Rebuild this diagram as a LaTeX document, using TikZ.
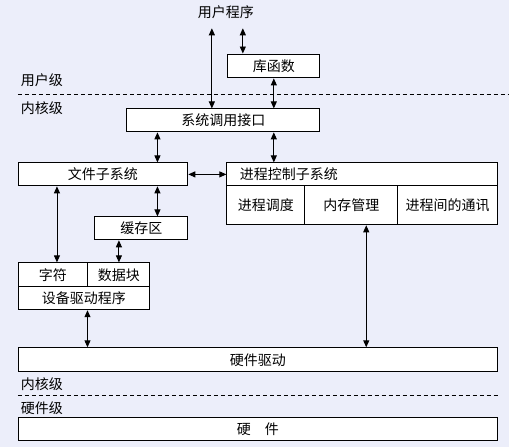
\documentclass[tikz,border=0pt]{standalone}
\usepackage{fontspec}
\setmainfont{Noto Sans CJK SC}
\usetikzlibrary{arrows.meta}
\definecolor{bgpanel}{RGB}{236,238,250}
\begin{document}
\begin{tikzpicture}[x=1pt,y=-1pt,line width=0.9pt,
	box/.style={draw,fill=white,inner sep=0pt},
	dbl/.style={{Triangle[length=7pt,width=6pt]}-{Triangle[length=7pt,width=6pt]}},
	lvl/.style={dash pattern=on 4pt off 3pt,line width=0.7pt},
	font=\fontsize{14}{16}\selectfont]
\fill[bgpanel] (0,0) rectangle (509,447);
\node (user) at (226,12) {用户程序};
\node[box,minimum width=92,minimum height=24] (lib) at (274,66) {库函数};
\node (ul) at (42,80) {用户级};
\draw[lvl] (18,94) -- (509,94);
\node (kl) at (42,108) {内核级};
\node[box,minimum width=193,minimum height=23] (sys) at (223.5,120.5) {系统调用接口};
\node[box,minimum width=170,minimum height=23] (file) at (103,174.5) {文件子系统};
\node[box,minimum height=23,text width=245,inner xsep=13pt,align=left] (pcs) at (362.5,174.5) {进程控制子系统};
\node[box,minimum width=78,minimum height=39] (sched) at (266,205.5) {进程调度};
\node[box,minimum width=93,minimum height=39] (mem) at (351.5,205.5) {内存管理};
\node[box,minimum width=100,minimum height=39] (ipc) at (448,205.5) {进程间的通讯};
\node[box,minimum width=93,minimum height=23] (buf) at (141.5,228.5) {缓存区};
\node[box,minimum width=70,minimum height=24] (chr) at (53,275) {字符};
\node[box,minimum width=62,minimum height=24] (blk) at (119,275) {数据块};
\node[box,minimum width=132,minimum height=23] (drv) at (84,298.5) {设备驱动程序};
\node[box,minimum width=480,minimum height=24] (hwd) at (258,360) {硬件驱动};
\node (kl2) at (42,384) {内核级};
\draw[lvl] (18,396) -- (498,396);
\node (hl) at (42,408) {硬件级};
\node[box,minimum width=480,minimum height=23] (hw) at (258,429.5) {硬　件};
\draw[dbl] ([xshift=-14,yshift=-6]user.south) -- ([xshift=-14]user.south |- sys.north);
\draw[dbl] ([xshift=17,yshift=-6]user.south) -- ([xshift=17]user.south |- lib.north);
\draw[dbl] (lib.south) -- (lib.south |- sys.north);
\draw[dbl] ([xshift=31]sys.south west) -- ([xshift=31]sys.south west |- file.north);
\draw[dbl] (lib.south |- sys.south) -- (lib.south |- pcs.north);
\draw[dbl] (file.east) -- (file.east -| pcs.west);
\draw[dbl] ([xshift=4]chr.north |- file.south) -- ([xshift=4]chr.north);
\draw[dbl] ([xshift=31]sys.south west |- file.south) -- ([xshift=31]sys.south west |- buf.north);
\draw[dbl] (buf.south -| blk.north) -- (blk.north);
\draw[dbl] (drv.south -| blk.west) -- (hwd.north -| blk.west);
\draw[dbl] ([xshift=15]mem.south) -- ([xshift=15]mem.south |- hwd.north);
\end{tikzpicture}
\end{document}
